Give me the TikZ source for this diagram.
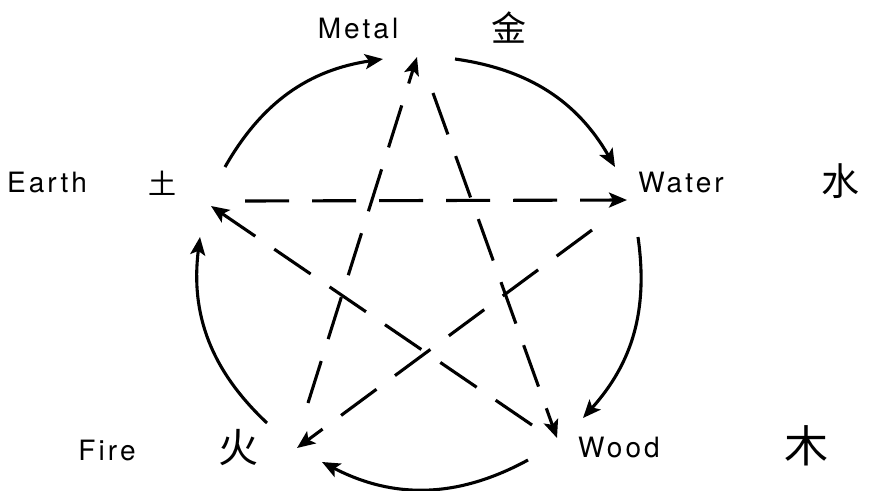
\documentclass[tikz,border=0pt]{standalone}
\usepackage{fontspec}
\setmainfont{TeX Gyre Heros}
\newfontfamily\cjkfont{Noto Sans CJK SC}
\usetikzlibrary{arrows.meta}
\begin{document}
\begin{tikzpicture}[x=1pt,y=1pt,
  lbl/.style={inner sep=0pt, font=\fontsize{28}{32}\selectfont\addfontfeature{LetterSpace=11}},
  han/.style={inner sep=0pt},
  tip/.style={-{Stealth[length=18pt,width=15pt,inset=4pt]}},
  cyc/.style={tip, line width=3.1pt, bend left=#1},
  ctl/.style={tip, line width=3.1pt, dash pattern=on 44pt off 23pt}]
\fill[white] (0,0) rectangle (869,-490);
\useasboundingbox (0,0) rectangle (869,-490);

% labels
\node[lbl] (metal) at (358,-29) {Metal};
\node[lbl] (earth) at (47,-183) {Earth};
\node[lbl] (water) at (681,-183) {Water};
\node[lbl] (wood)  at (619,-447) {Wood};
\node[lbl] (fire)  at (107,-450) {Fire};

\node[han, font=\cjkfont\fontsize{35}{35}\selectfont] (metalc) at (509,-28) {金};
\node[han, font=\cjkfont\fontsize{28}{28}\selectfont] (earthc) at (162,-183) {土};
\node[han, font=\cjkfont\fontsize{38}{38}\selectfont] (waterc) at (840,-181) {水};
\node[han, font=\cjkfont\fontsize{40}{40}\selectfont] (firec)  at (238,-448) {火};
\node[han, font=\cjkfont\fontsize{44}{44}\selectfont] (woodc)  at (806,-446) {木};

% generating cycle endpoints
\coordinate (em-s) at (225,-167); \coordinate (em-e) at (383,-59);
\coordinate (mw-s) at (455,-59);  \coordinate (mw-e) at (615,-167);
\coordinate (ww-s) at (638,-237); \coordinate (ww-e) at (583,-418);
\coordinate (wf-s) at (528,-460); \coordinate (wf-e) at (322,-462);
\coordinate (fe-s) at (267,-423); \coordinate (fe-e) at (200,-237);

\draw[cyc=26] (em-s) to (em-e);
\draw[cyc=26] (mw-s) to (mw-e);
\draw[cyc=25] (ww-s) to (ww-e);
\draw[cyc=28] (wf-s) to (wf-e);
\draw[cyc=27] (fe-s) to (fe-e);

% controlling cycle endpoints
\coordinate (ew-s) at (245,-201); \coordinate (ew-e) at (627,-200);
\coordinate (mo-s) at (433,-93);  \coordinate (mo-e) at (557,-438);
\coordinate (fm-s) at (308,-403); \coordinate (fm-e) at (417,-57);
\coordinate (wa-s) at (592,-230); \coordinate (wa-e) at (297,-448);
\coordinate (we-s) at (532,-425); \coordinate (we-e) at (211,-206);

\draw[ctl] (ew-s) -- (ew-e);
\draw[ctl] (mo-s) -- (mo-e);
\draw[ctl] (fm-s) -- (fm-e);
\draw[ctl] (wa-s) -- (wa-e);
\draw[ctl] (we-s) -- (we-e);
\end{tikzpicture}
\end{document}
